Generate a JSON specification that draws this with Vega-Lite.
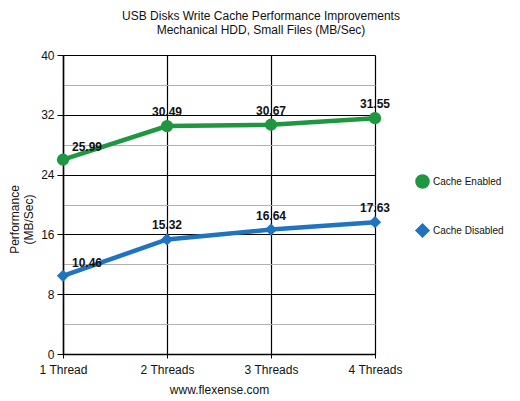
{
  "$schema": "https://vega.github.io/schema/vega-lite/v6.json",
  "width": 312,
  "height": 299,
  "autosize": {"type": "none"},
  "padding": {"left": 63, "top": 55, "right": 145, "bottom": 47},
  "background": "white",
  "config": {
    "font": "Liberation Sans",
    "view": {"stroke": null}
  },
  "title": {
    "text": ["USB Disks Write Cache Performance Improvements", "Mechanical HDD, Small Files (MB/Sec)"],
    "fontSize": 12,
    "fontWeight": "normal",
    "color": "#111",
    "anchor": "middle",
    "dx": 42,
    "offset": 12,
    "lineHeight": 14
  },
  "data": {
    "values": [
      {"threads": "1 Thread", "series": "Cache Enabled", "value": 25.99},
      {"threads": "2 Threads", "series": "Cache Enabled", "value": 30.49},
      {"threads": "3 Threads", "series": "Cache Enabled", "value": 30.67},
      {"threads": "4 Threads", "series": "Cache Enabled", "value": 31.55},
      {"threads": "1 Thread", "series": "Cache Disabled", "value": 10.46},
      {"threads": "2 Threads", "series": "Cache Disabled", "value": 15.32},
      {"threads": "3 Threads", "series": "Cache Disabled", "value": 16.64},
      {"threads": "4 Threads", "series": "Cache Disabled", "value": 17.63}
    ]
  },
  "encoding": {
    "x": {
      "field": "threads",
      "type": "ordinal",
      "scale": {"type": "point", "padding": 0},
      "sort": ["1 Thread", "2 Threads", "3 Threads", "4 Threads"],
      "axis": {
        "title": "www.flexense.com",
        "titleFontSize": 12,
        "titleFontWeight": "normal",
        "titleColor": "#111",
        "titlePadding": 9,
        "labelAngle": 0,
        "labelFontSize": 12,
        "labelColor": "#111",
        "labelPadding": 6,
        "domainColor": "black",
        "domainWidth": 1.5,
        "tickColor": "black",
        "tickSize": 4,
        "grid": true,
        "gridColor": "black",
        "gridWidth": 1.2
      }
    },
    "y": {
      "field": "value",
      "type": "quantitative",
      "scale": {"domain": [0, 40], "nice": false},
      "axis": {
        "title": ["Performance", "(MB/Sec)"],
        "titleFontSize": 12,
        "titleFontWeight": "normal",
        "titleColor": "#111",
        "titlePadding": 5,
        "titleY": 164,
        "values": [0, 4, 8, 12, 16, 20, 24, 28, 32, 36, 40],
        "labelExpr": "datum.value % 8 === 0 ? datum.label : ''",
        "labelFontSize": 12,
        "labelColor": "#111",
        "labelPadding": 3,
        "domainColor": "black",
        "domainWidth": 1.5,
        "tickSize": 6,
        "tickColor": {"condition": {"test": "datum.value % 8 === 0", "value": "black"}, "value": "transparent"},
        "grid": true,
        "gridColor": {"condition": {"test": "datum.value % 8 === 0", "value": "black"}, "value": "#b0b0b0"},
        "gridWidth": 1.2
      }
    },
    "color": {
      "field": "series",
      "type": "nominal",
      "scale": {"domain": ["Cache Enabled", "Cache Disabled"], "range": ["#1f9640", "#1f74c0"]},
      "legend": {
        "title": null,
        "orient": "none",
        "legendX": 352,
        "legendY": 119,
        "labelFontSize": 10,
        "labelColor": "#111",
        "symbolSize": 170,
        "rowPadding": 28,
        "labelOffset": 3
      }
    }
  },
  "layer": [
    {
      "mark": {"type": "line", "strokeWidth": 4.5}
    },
    {
      "mark": {"type": "point", "filled": true, "opacity": 1, "size": 150},
      "encoding": {
        "shape": {
          "field": "series",
          "type": "nominal",
          "scale": {"domain": ["Cache Enabled", "Cache Disabled"], "range": ["circle", "diamond"]},
          "legend": {
            "title": null,
            "orient": "none",
            "legendX": 352,
            "legendY": 119,
            "labelFontSize": 10,
            "labelColor": "#111",
            "symbolSize": 170,
            "rowPadding": 28,
            "labelOffset": 3
          }
        }
      }
    },
    {
      "transform": [{"filter": "datum.threads === '1 Thread'"}],
      "mark": {"type": "text", "fontWeight": "bold", "fontSize": 12, "dx": 24, "dy": -13},
      "encoding": {"text": {"field": "value", "type": "quantitative", "format": ".2f"}, "color": {"value": "#111"}}
    },
    {
      "transform": [{"filter": "datum.threads !== '1 Thread'"}],
      "mark": {"type": "text", "fontWeight": "bold", "fontSize": 12, "dx": 0, "dy": -14},
      "encoding": {"text": {"field": "value", "type": "quantitative", "format": ".2f"}, "color": {"value": "#111"}}
    }
  ]
}
